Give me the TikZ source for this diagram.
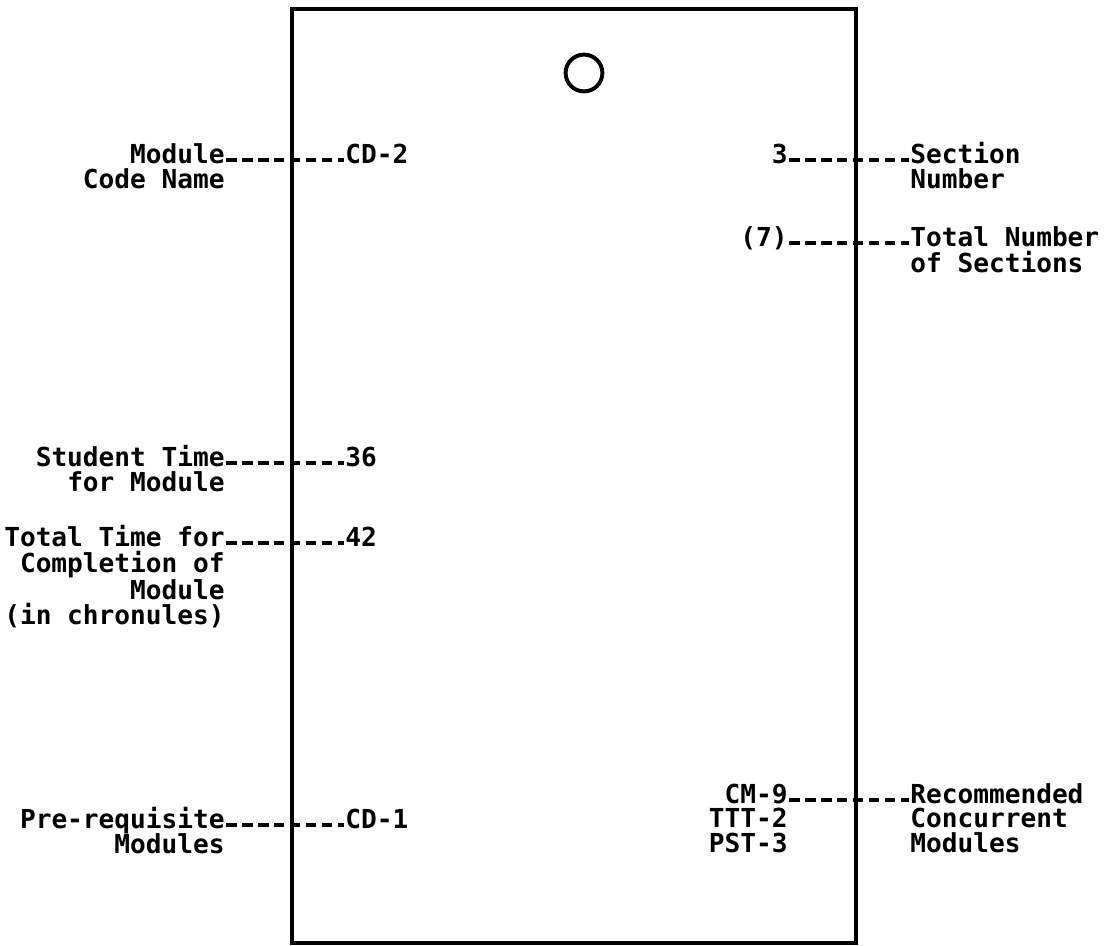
\documentclass[tikz,border=0pt]{standalone}
\usepackage{fontspec}
\setmonofont{DejaVu Sans Mono}
\usetikzlibrary{positioning}
\tikzset{
  card/.style={line width=2.6pt},
  hole/.style={circle, draw, line width=2.8pt, minimum size=0.92cm, inner sep=0pt},
  typing/.style={font=\ttfamily\bfseries\fontsize{18.6}{17.8}\selectfont, inner sep=0pt},
  head left/.style={typing, text depth=3.5pt, anchor=mid east},
  head right/.style={typing, text depth=3.5pt, anchor=mid west},
  rest left/.style={typing, align=right, below left=0pt and 0pt of #1.south east},
  rest right/.style={typing, align=left, below right=0pt and 0pt of #1.south west},
  typed/.style={line width=2.8pt, dash pattern=on 7.4pt off 3.9pt, shorten <=1pt, shorten >=1pt}
}

\begin{document}
\begin{tikzpicture}[x=0.025cm,y=-0.025cm]
  \useasboundingbox (0,0) rectangle (1112,946);
  % the card and its hole
  \draw[card] (292,9) rectangle (856,943);
  \node[hole] (hole) at (584,73) {};

  % left side
  \node[head left] (modname) at (225,160) {Module};
  \node[rest left=modname] (modname2) {Code Name};
  \node[head right] (modval) at (345,160) {CD-2};

  \node[head left] (stutime) at (225,463) {Student Time};
  \node[rest left=stutime] (stutime2) {for Module};
  \node[head right] (stuval) at (345,463) {36};

  \node[head left] (tottime) at (225,543) {Total Time for};
  \node[rest left=tottime] (tottime2) {Completion of\\Module\\(in chronules)};
  \node[head right] (totval) at (345,543) {42};

  \node[head left] (prereq) at (225,825) {Pre-requisite};
  \node[rest left=prereq] (prereq2) {Modules};
  \node[head right] (preval) at (345,825) {CD-1};

  % right side
  \node[head left] (secval) at (788,160) {3};
  \node[head right] (secnum) at (910,160) {Section};
  \node[rest right=secnum] (secnum2) {Number};

  \node[head left] (totsecval) at (788,243) {(7)};
  \node[head right] (totsec) at (910,243) {Total Number};
  \node[rest right=totsec] (totsec2) {of Sections};

  \node[head left] (concval) at (788,800) {CM-9};
  \node[rest left=concval] (concval2) {TTT-2\\PST-3};
  \node[head right] (conc) at (910,800) {Recommended};
  \node[rest right=conc] (conc2) {Concurrent\\Modules};

  % typed leaders
  \draw[typed] (modname.mid east) -- (modval.mid west);
  \draw[typed] (stutime.mid east) -- (stuval.mid west);
  \draw[typed] (tottime.mid east) -- (totval.mid west);
  \draw[typed] (prereq.mid east) -- (preval.mid west);
  \draw[typed] (secval.mid east) -- (secnum.mid west);
  \draw[typed] (totsecval.mid east) -- (totsec.mid west);
  \draw[typed] (concval.mid east) -- (conc.mid west);
\end{tikzpicture}
\end{document}
